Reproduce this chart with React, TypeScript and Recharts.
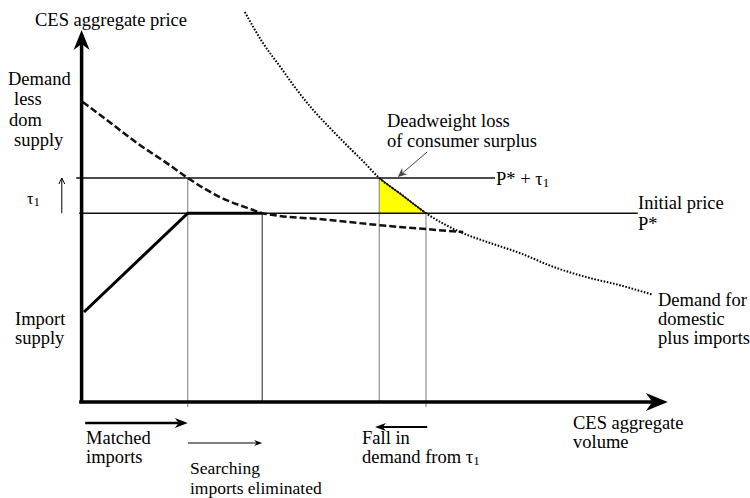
import { Area, ComposedChart, Line, ReferenceLine, XAxis, YAxis } from 'recharts'
import type { ReactNode } from 'react'

// price levels and the four volumes marked on the horizontal axis
const P_STAR = 47.2
const P_TARIFF = 56
const Q_MATCHED = 17.8
const Q_SEARCH = 30.2
const Q_TARIFF = 49.7
const Q_FREE = 57.5

// demand for domestic plus imports (dotted)
const DEMAND_Q = [27.3, 30.3, 33.2, 36, 38.7, 41.5, 44.3, 47, 49.7, 53.5, 57.5, 63.2, 67.7, 73.2, 78.7, 84.3, 89.8, 95.3]
const DEMAND_P = [97.5, 89.8, 83.8, 78, 73, 68.5, 64.2, 60.2, 56, 51.8, 47.2, 42.5, 40, 37.2, 33.8, 31.2, 29.2, 26.8]

// demand less domestic supply (dashed)
const EXCESS_Q = [0.3, 3.7, 9.3, 14.8, 17.8, 23.2, 28.7, 30.2, 41.5, 49.8, 57.7, 63.7]
const EXCESS_P = [75, 71.2, 64.8, 59.2, 56, 51.2, 48, 47.2, 45.5, 44.2, 43.2, 42.5]

// import supply (solid)
const SUPPLY_Q = [0.5, Q_MATCHED, Q_SEARCH]
const SUPPLY_P = [22.5, P_STAR, P_STAR]

const zip = (qs: number[], ps: number[]) => qs.map((x, i) => ({ x, y: ps[i] }))

const demandData = zip(DEMAND_Q, DEMAND_P)
const excessData = zip(EXCESS_Q, EXCESS_P)
const supplyData = zip(SUPPLY_Q, SUPPLY_P)
const dwlData = [
  { x: Q_TARIFF, y: P_TARIFF },
  { x: Q_FREE, y: P_STAR },
]

const FONT = '"Liberation Serif", "Times New Roman", serif'

function arrowShape(head: number, spread: number, open = false) {
  return (props: any) => {
    const { x1, y1, x2, y2, stroke, strokeWidth } = props
    const dx = x2 - x1
    const dy = y2 - y1
    const len = Math.hypot(dx, dy) || 1
    const ux = dx / len
    const uy = dy / len
    const px = -uy
    const py = ux
    const bx = x2 - ux * head
    const by = y2 - uy * head
    const nx = x2 - ux * head * 0.7
    const ny = y2 - uy * head * 0.7
    if (open) {
      return (
        <g>
          <line x1={x1} y1={y1} x2={x2} y2={y2} stroke={stroke} strokeWidth={strokeWidth} />
          <polyline
            points={`${bx + px * spread},${by + py * spread} ${x2},${y2} ${bx - px * spread},${by - py * spread}`}
            fill="none"
            stroke={stroke}
            strokeWidth={strokeWidth}
          />
        </g>
      )
    }
    return (
      <g>
        <line x1={x1} y1={y1} x2={nx} y2={ny} stroke={stroke} strokeWidth={strokeWidth} />
        <polygon
          points={`${x2},${y2} ${bx + px * spread},${by + py * spread} ${nx},${ny} ${bx - px * spread},${by - py * spread}`}
          fill={stroke}
        />
      </g>
    )
  }
}

// x = left edge, base = baseline of the text
function Txt({ x, base, children, size = 18.5, lh = 17 }: { x: number; base: number; children: ReactNode; size?: number; lh?: number }) {
  return (
    <div
      style={{
        position: 'absolute',
        left: x,
        top: Math.round(base - lh / 2 - 0.3375 * size),
        fontFamily: FONT,
        fontSize: size,
        lineHeight: `${lh}px`,
        color: '#000',
        whiteSpace: 'nowrap',
      }}
    >
      {children}
    </div>
  )
}

const Tau = () => (
  <span>
    τ<span style={{ fontSize: 13, position: 'relative', top: 2 }}>1</span>
  </span>
)

export default function App() {
  const grey = '#7a7a7a'
  return (
    <div style={{ position: 'absolute', left: 0, top: 0, width: 750, height: 498, background: '#fff', fontFamily: FONT }}>
      <ComposedChart width={750} height={498} margin={{ top: 2, right: 69, bottom: 96, left: 81 }}>
        <XAxis type="number" dataKey="x" domain={[0, 100]} allowDataOverflow hide />
        <YAxis type="number" dataKey="y" domain={[0, 100]} allowDataOverflow hide />

        {/* volume markers */}
        <ReferenceLine segment={[{ x: Q_MATCHED, y: P_TARIFF }, { x: Q_MATCHED, y: -1.25 }]} stroke={grey} strokeWidth={1} ifOverflow="visible" />
        <ReferenceLine segment={[{ x: Q_SEARCH, y: P_STAR }, { x: Q_SEARCH, y: 0 }]} stroke="#222" strokeWidth={1} ifOverflow="visible" />
        <ReferenceLine segment={[{ x: Q_TARIFF, y: P_TARIFF }, { x: Q_TARIFF, y: 0 }]} stroke={grey} strokeWidth={1} ifOverflow="visible" />
        <ReferenceLine segment={[{ x: Q_FREE, y: P_STAR }, { x: Q_FREE, y: -1.25 }]} stroke={grey} strokeWidth={1} ifOverflow="visible" />

        {/* price levels */}
        <ReferenceLine segment={[{ x: -0.8, y: P_TARIFF }, { x: 69, y: P_TARIFF }]} stroke="#111" strokeWidth={1.5} ifOverflow="visible" />
        <ReferenceLine segment={[{ x: -0.3, y: P_STAR }, { x: 92.8, y: P_STAR }]} stroke="#111" strokeWidth={1.5} ifOverflow="visible" />

        <Area
          data={dwlData}
          dataKey="y"
          type="linear"
          baseValue={P_STAR}
          fill="#ffff00"
          fillOpacity={1}
          stroke="#111"
          strokeWidth={1.2}
          isAnimationActive={false}
          dot={false}
          activeDot={false}
        />

        <Line data={excessData} dataKey="y" type="monotone" stroke="#111" strokeWidth={2.5} strokeDasharray="7 3" dot={false} activeDot={false} isAnimationActive={false} />
        <Line data={demandData} dataKey="y" type="monotone" stroke="#000" strokeWidth={2} strokeDasharray="1.6 1.6" dot={false} activeDot={false} isAnimationActive={false} />
        <Line data={supplyData} dataKey="y" type="linear" stroke="#000" strokeWidth={3} dot={false} activeDot={false} isAnimationActive={false} />

        {/* axes */}
        <ReferenceLine segment={[{ x: 0.1, y: -0.3 }, { x: 0.1, y: 93 }]} stroke="#000" strokeWidth={3.5} ifOverflow="visible" shape={arrowShape(20, 8)} />
        <ReferenceLine segment={[{ x: -0.3, y: 0 }, { x: 97.8, y: 0 }]} stroke="#000" strokeWidth={3.5} ifOverflow="visible" shape={arrowShape(22, 9)} />

        {/* annotation arrows */}
        <ReferenceLine segment={[{ x: 57.7, y: 62.5 }, { x: 52.8, y: 56.25 }]} stroke="#444" strokeWidth={1} ifOverflow="visible" shape={arrowShape(9, 4)} />
        <ReferenceLine segment={[{ x: -3.2, y: 47.2 }, { x: -3.2, y: 56 }]} stroke="#000" strokeWidth={1} ifOverflow="visible" shape={arrowShape(6, 3, true)} />
        <ReferenceLine segment={[{ x: 0.7, y: -5.25 }, { x: Q_MATCHED, y: -5.25 }]} stroke="#000" strokeWidth={2.5} ifOverflow="visible" shape={arrowShape(13, 5)} />
        <ReferenceLine segment={[{ x: Q_MATCHED, y: -10.25 }, { x: Q_SEARCH, y: -10.25 }]} stroke="#000" strokeWidth={1} ifOverflow="visible" shape={arrowShape(8, 3)} />
        <ReferenceLine segment={[{ x: 57.7, y: -6.25 }, { x: 49, y: -6.25 }]} stroke="#000" strokeWidth={2} ifOverflow="visible" shape={arrowShape(11, 4)} />
      </ComposedChart>

      <Txt x={35} base={27}>CES aggregate price</Txt>
      <Txt x={8} base={86}>Demand</Txt>
      <Txt x={14} base={106}>less</Txt>
      <Txt x={9} base={127}>dom</Txt>
      <Txt x={14} base={147}>supply</Txt>
      <Txt x={27} base={204} size={16}><Tau /></Txt>
      <Txt x={15} base={326}>Import</Txt>
      <Txt x={15} base={345}>supply</Txt>

      <Txt x={387} base={128}>Deadweight loss</Txt>
      <Txt x={387} base={148}>of consumer surplus</Txt>
      <Txt x={496} base={186}>P* + <Tau /></Txt>
      <Txt x={638} base={210}>Initial price</Txt>
      <Txt x={638} base={231}>P*</Txt>
      <Txt x={658} base={307}>Demand for</Txt>
      <Txt x={658} base={326}>domestic</Txt>
      <Txt x={658} base={345}>plus imports</Txt>

      <Txt x={573} base={430}>CES aggregate</Txt>
      <Txt x={573} base={449}>volume</Txt>
      <Txt x={86} base={445}>Matched</Txt>
      <Txt x={86} base={464}>imports</Txt>
      <Txt x={190} base={474} size={17.5}>Searching</Txt>
      <Txt x={190} base={494} size={17.5}>imports eliminated</Txt>
      <Txt x={362} base={445}>Fall in</Txt>
      <Txt x={362} base={464}>demand from <Tau /></Txt>
    </div>
  )
}
